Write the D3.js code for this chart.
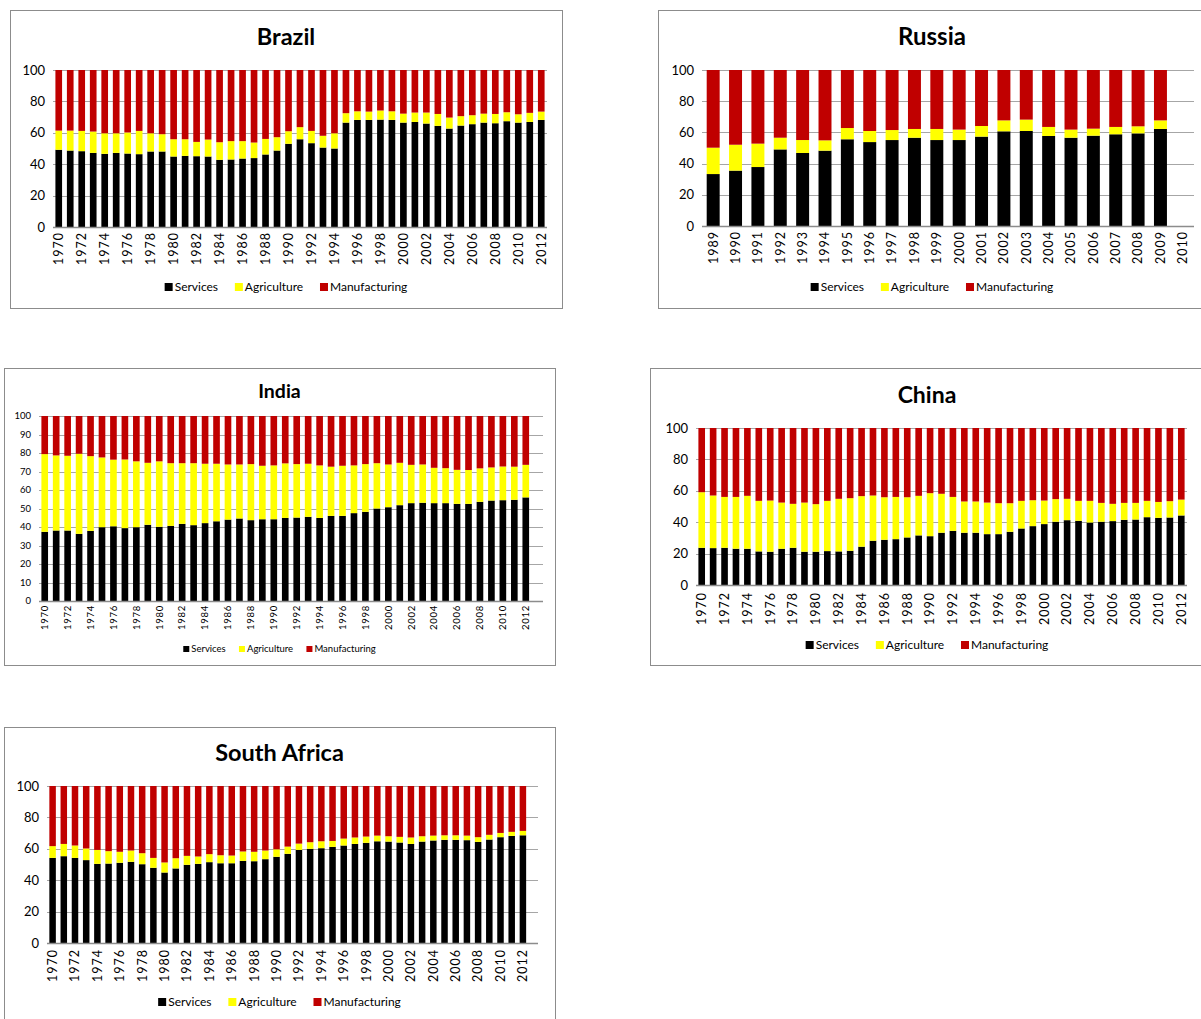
<!doctype html>
<html>
<head>
<meta charset="utf-8">
<style>
body { margin: 0; background: #fff; }
svg { font-family: Lato, "Open Sans", sans-serif; }
</style>
<script src="https://d3js.org/d3.v7.min.js"></script>
</head>
<body>
<svg width="1201" height="1019"></svg>
<script>
// ---- data ----
var seriesNames = ["Services", "Agriculture", "Manufacturing"];
var seriesColors = ["#000000", "#ffff00", "#c00000"];

var years7012 = [1970,1971,1972,1973,1974,1975,1976,1977,1978,1979,
                 1980,1981,1982,1983,1984,1985,1986,1987,1988,1989,
                 1990,1991,1992,1993,1994,1995,1996,1997,1998,1999,
                 2000,2001,2002,2003,2004,2005,2006,2007,2008,2009,
                 2010,2011,2012];
var yearsRussia = [1989,1990,1991,1992,1993,1994,1995,1996,1997,1998,1999,
                   2000,2001,2002,2003,2004,2005,2006,2007,2008,2009,2010];

var brazilServices = [49.2,48.7,48.3,47.2,46.6,47.2,46.8,46.4,48.1,48.1,
                      44.9,45.3,45.1,44.9,42.8,43.0,43.6,43.9,46.2,48.7,
                      53.0,55.9,53.4,50.6,50.0,66.5,68.2,68.2,68.4,68.2,
                      66.5,66.9,65.9,64.4,62.7,64.6,65.5,66.5,66.1,67.4,
                      66.5,66.9,68.2];
var brazilAgriculture = [12.2,12.7,12.9,13.6,13.1,12.5,13.4,14.8,11.6,11.0,
                         11.0,10.6,9.1,10.8,11.2,11.7,11.1,9.9,9.9,8.5,
                         8.0,7.7,7.8,7.5,9.7,6.0,5.5,5.3,5.8,5.5,
                         5.7,6.0,7.0,7.6,7.0,6.0,5.7,5.7,5.9,5.7,
                         5.3,5.8,5.3];
var brazilManufacturing = [38.6,38.6,38.8,39.2,40.3,40.3,39.8,38.8,40.3,40.9,
                           44.1,44.1,45.8,44.3,46.0,45.3,45.3,46.2,43.9,42.8,
                           39.0,36.4,38.8,41.9,40.3,27.5,26.3,26.5,25.8,26.3,
                           27.8,27.1,27.1,28.0,30.3,29.4,28.8,27.8,28.0,26.9,
                           28.2,27.3,26.5];

var russiaServices = [33.3,35.5,37.8,49.1,46.8,48.3,55.6,53.8,55.1,56.6,
                      55.1,55.1,57.3,60.7,60.9,57.7,56.6,57.9,58.8,59.4,62.2,null];
var russiaAgriculture = [16.9,16.6,15.0,7.5,8.3,6.6,7.2,7.1,6.4,5.6,
                         7.1,6.7,6.8,7.0,7.3,5.8,5.2,4.5,4.7,4.5,5.5,null];
var russiaManufacturing = [49.8,47.9,47.2,43.4,44.9,45.1,37.2,39.1,38.5,37.8,
                           37.8,38.2,35.9,32.3,31.8,36.5,38.2,37.6,36.5,36.1,32.3,null];

var indiaServices = [37.4,38.1,38.1,36.3,37.9,39.9,40.4,39.4,39.9,41.2,
                     40.1,40.6,41.7,41.0,42.1,43.1,44.0,44.6,43.7,44.2,
                     44.2,44.9,45.1,45.5,44.9,46.0,46.0,47.5,48.2,50.0,
                     50.7,51.8,52.9,53.1,52.9,52.9,52.5,52.5,53.6,54.3,
                     54.5,54.7,56.0];
var indiaAgriculture = [42.0,40.6,40.4,43.3,40.4,37.7,36.0,37.1,35.6,33.5,
                        35.4,33.9,32.8,33.5,32.1,31.1,29.8,29.2,30.3,28.9,
                        29.1,29.5,28.9,28.7,28.4,26.6,27.1,25.8,25.8,24.5,
                        23.1,22.9,20.7,20.7,19.1,18.9,18.4,18.3,18.1,17.9,
                        18.2,17.9,17.6];
var indiaManufacturing = [20.6,21.3,21.5,20.4,21.7,22.4,23.6,23.5,24.5,25.3,
                          24.5,25.5,25.5,25.5,25.8,25.8,26.2,26.2,26.0,26.9,
                          26.7,25.6,26.0,25.8,26.7,27.4,26.9,26.7,26.0,25.5,
                          26.2,25.3,26.4,26.2,28.0,28.2,29.1,29.2,28.3,27.8,
                          27.3,27.4,26.4];

var chinaServices = [23.7,23.5,23.7,23.1,23.1,21.4,21.2,23.1,23.7,21.2,
                     21.2,21.6,21.4,21.8,24.4,28.2,28.8,29.2,30.3,31.6,
                     31.1,33.3,34.5,33.3,33.3,32.4,32.4,33.9,36.0,37.5,
                     38.8,40.3,41.3,40.9,39.8,40.3,40.7,41.5,41.7,43.2,
                     42.8,43.0,44.3];
var chinaAgriculture = [35.4,33.5,32.4,33.0,33.7,32.2,32.6,29.4,28.0,31.3,
                        30.3,32.0,33.5,33.5,32.2,28.8,27.1,26.9,25.6,25.2,
                        27.4,24.8,21.6,19.9,19.9,20.1,19.7,18.2,17.6,16.5,
                        15.0,14.4,13.6,12.7,13.8,12.0,11.0,10.8,10.6,10.4,
                        10.1,10.4,10.1];
var chinaManufacturing = [40.9,43.0,43.9,43.9,43.2,46.4,46.2,47.5,48.3,47.5,
                          48.5,46.4,45.1,44.7,43.4,43.0,44.1,43.9,44.1,43.2,
                          41.5,41.9,43.9,46.8,46.8,47.5,47.9,47.9,46.4,46.0,
                          46.2,45.3,45.1,46.4,46.4,47.7,48.3,47.7,47.7,46.4,
                          47.1,46.6,45.6];

var saServices = [54.2,55.3,54.2,52.8,50.4,50.6,51.1,51.7,50.2,47.9,
                  44.9,47.5,49.8,50.4,51.5,50.8,50.8,52.3,52.1,53.4,
                  54.9,56.8,59.3,60.0,60.4,61.2,62.1,63.1,63.8,64.8,
                  64.6,64.0,63.1,64.6,65.3,65.7,65.7,65.5,64.4,65.9,
                  67.4,68.2,68.6];
var saAgriculture = [7.5,7.8,7.9,7.4,8.9,7.9,7.0,7.2,7.0,6.3,
                     6.4,6.5,5.7,4.7,5.1,5.1,4.9,6.0,6.0,5.5,
                     4.8,4.6,4.0,4.2,4.4,3.8,4.4,4.1,4.0,3.6,
                     3.4,3.6,4.1,3.4,3.1,2.9,2.9,2.9,3.0,3.0,
                     2.7,2.6,2.8];
var saManufacturing = [38.3,36.9,37.9,39.8,40.7,41.5,41.9,41.1,42.8,45.8,
                       48.7,46.0,44.5,44.9,43.4,44.1,44.3,41.7,41.9,41.1,
                       40.3,38.6,36.7,35.8,35.2,35.0,33.5,32.8,32.2,31.6,
                       32.0,32.4,32.8,32.0,31.6,31.4,31.4,31.6,32.6,31.1,
                       29.9,29.2,28.6];

var ticks20 = [0, 20, 40, 60, 80, 100];
var ticks10 = [0, 10, 20, 30, 40, 50, 60, 70, 80, 90, 100];

// ---- layout per panel ----
var charts = [
  { title: "Brazil", years: years7012, s: brazilServices, a: brazilAgriculture, m: brazilManufacturing,
    box: [10, 10, 552, 298], titleY: 37, titleSize: 23.5,
    left: 53, right: 547, bandRight: 547, top: 70, bottom: 227,
    yTicks: ticks20, yFont: 13, xFont: 12.5, xGap: 5, xEvery: 2, legendY: 287, legendFont: 12 },
  { title: "Russia", years: yearsRussia, s: russiaServices, a: russiaAgriculture, m: russiaManufacturing,
    box: [658, 10, 560, 298], titleY: 37, titleSize: 24, centerX: 932,
    left: 702, right: 1194, bandRight: 1194, top: 70, bottom: 226,
    yTicks: ticks20, yFont: 13, xFont: 12.5, xGap: 5, xEvery: 1, legendY: 287, legendFont: 12 },
  { title: "India", years: years7012, s: indiaServices, a: indiaAgriculture, m: indiaManufacturing,
    box: [4, 368, 551, 297], titleY: 391, titleSize: 19.5,
    left: 39, right: 543, bandRight: 531.5, top: 416, bottom: 601,
    yTicks: ticks10, yFont: 9.5, xFont: 9.5, xGap: 4, xEvery: 2, legendY: 649, legendFont: 9.5 },
  { title: "China", years: years7012, s: chinaServices, a: chinaAgriculture, m: chinaManufacturing,
    box: [650, 368, 560, 297], titleY: 395, titleSize: 23, centerX: 927,
    left: 696, right: 1187, bandRight: 1187, top: 428, bottom: 585,
    yTicks: ticks20, yFont: 13, xFont: 12.5, xGap: 7, xEvery: 2, legendY: 645, legendFont: 12 },
  { title: "South Africa", years: years7012, s: saServices, a: saAgriculture, m: saManufacturing,
    box: [4, 727, 551, 300], titleY: 753, titleSize: 23.5,
    left: 47, right: 538, bandRight: 528.5, top: 786, bottom: 943,
    yTicks: ticks20, yFont: 13, xFont: 12.5, xGap: 6, xEvery: 2, legendY: 1002, legendFont: 12 }
];

var svg = d3.select("svg");

charts.forEach(function(c) {
  var g = svg.append("g");
  var cx = c.centerX || (c.box[0] + c.box[2] / 2);

  g.append("rect")
    .attr("x", c.box[0] + 0.5).attr("y", c.box[1] + 0.5)
    .attr("width", c.box[2]).attr("height", c.box[3])
    .attr("fill", "#fff").attr("stroke", "#8c8c8c");

  g.append("text")
    .attr("x", cx).attr("y", c.titleY)
    .attr("dy", "0.35em")
    .attr("text-anchor", "middle")
    .attr("font-weight", "bold")
    .attr("font-size", c.titleSize)
    .text(c.title);

  var x = d3.scaleBand()
    .domain(c.years)
    .range([c.left, c.bandRight])
    .paddingInner(0.42)
    .paddingOuter(0.21);
  var y = d3.scaleLinear().domain([0, 100]).range([c.bottom, c.top]);

  // gridlines
  g.append("g").selectAll("line")
    .data(c.yTicks.filter(function(t) { return t > 0; }))
    .enter().append("line")
      .attr("x1", c.left).attr("x2", c.right)
      .attr("y1", function(d) { return Math.round(y(d)) + 0.5; })
      .attr("y2", function(d) { return Math.round(y(d)) + 0.5; })
      .attr("stroke", "#a6a6a6");

  // y labels
  g.append("g").selectAll("text")
    .data(c.yTicks)
    .enter().append("text")
      .attr("x", c.left - 8)
      .attr("y", function(d) { return y(d); })
      .attr("dy", "0.35em")
      .attr("text-anchor", "end")
      .attr("font-size", c.yFont)
      .attr("fill", "#000")
      .text(function(d) { return d; });

  // stacked bars
  var rows = c.years.map(function(yr, i) {
    return { year: yr, Services: c.s[i], Agriculture: c.a[i], Manufacturing: c.m[i] };
  }).filter(function(r) { return r.Services != null; });

  var stack = d3.stack().keys(seriesNames)(rows);

  g.append("g").selectAll("g")
    .data(stack)
    .enter().append("g")
      .attr("fill", function(d, i) { return seriesColors[i]; })
    .selectAll("rect")
    .data(function(d) { return d; })
    .enter().append("rect")
      .attr("x", function(d) { return x(d.data.year); })
      .attr("width", x.bandwidth())
      .attr("y", function(d) { return y(d[1]); })
      .attr("height", function(d) { return y(d[0]) - y(d[1]); });

  // x axis line
  g.append("line")
    .attr("x1", c.left).attr("x2", c.right)
    .attr("y1", c.bottom + 0.5).attr("y2", c.bottom + 0.5)
    .attr("stroke", "#8c8c8c").attr("stroke-width", 1.5);

  // x labels
  g.append("g").selectAll("text")
    .data(c.years.filter(function(d, i) { return i % c.xEvery === 0; }))
    .enter().append("text")
      .attr("transform", function(d) {
        return "translate(" + (x(d) + x.bandwidth() / 2) + "," + (c.bottom + c.xGap) + ") rotate(-90)";
      })
      .attr("dy", "0.35em")
      .attr("text-anchor", "end")
      .attr("font-size", c.xFont)
      .attr("letter-spacing", c.xFont * 0.08)
      .text(function(d) { return d; });

  // legend
  var lg = g.append("g");
  var sq = Math.round(c.legendFont * 0.65);
  var items = lg.selectAll("g").data(seriesNames).enter().append("g");
  items.append("rect")
    .attr("width", sq).attr("height", sq)
    .attr("y", -sq / 2)
    .attr("fill", function(d, i) { return seriesColors[i]; });
  items.append("text")
    .attr("x", sq + 2)
    .attr("dy", "0.35em")
    .attr("font-size", c.legendFont)
    .text(function(d) { return d; });
  var offs = 0, gap = c.legendFont * 1.4;
  items.each(function() {
    var w = this.getBBox().width;
    d3.select(this).attr("data-x", offs);
    offs += w + gap;
  });
  var total = offs - gap;
  items.attr("transform", function() {
    return "translate(" + (cx - total / 2 + (+this.getAttribute("data-x"))) + "," + c.legendY + ")";
  });
});
</script>
</body>
</html>
